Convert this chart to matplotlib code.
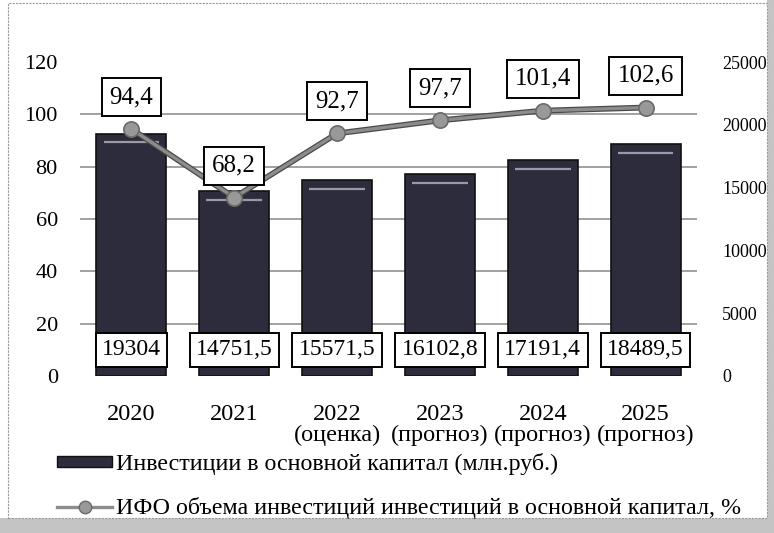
import matplotlib
matplotlib.use("Agg")
import matplotlib.pyplot as plt
from matplotlib.patches import Rectangle, Patch
from matplotlib.lines import Line2D
import matplotlib.transforms as mtransforms

plt.rcParams['font.family'] = ['Liberation Serif', 'DejaVu Serif']

years = ["2020", "2021", "2022\n(оценка)", "2023\n(прогноз)", "2024\n(прогноз)", "2025\n(прогноз)"]
investments = [19304, 14751.5, 15571.5, 16102.8, 17191.4, 18489.5]
ifo = [94.4, 68.2, 92.7, 97.7, 101.4, 102.6]
inv_labels = ["19304", "14751,5", "15571,5", "16102,8", "17191,4", "18489,5"]
ifo_labels = ["94,4", "68,2", "92,7", "97,7", "101,4", "102,6"]
left_ticks = [0, 20, 40, 60, 80, 100, 120]
right_ticks = [0, 5000, 10000, 15000, 20000, 25000]
legend_bar = "Инвестиции в основной капитал (млн.руб.)"
legend_line = "ИФО объема инвестиций инвестиций в основной капитал, %"

W, H = 774, 533
fig = plt.figure(figsize=(W / 100, H / 100), dpi=100)
fig.patch.set_facecolor("white")

# frame / scan border
fig.patches.append(Rectangle((0, 0), 1, 15 / H, transform=fig.transFigure,
                             facecolor="#c4c4c4", edgecolor="none", zorder=-10))
fig.patches.append(Rectangle((767 / W, 0), 7 / W, 1, transform=fig.transFigure,
                             facecolor="#c4c4c4", edgecolor="none", zorder=-10))
fig.patches.append(Rectangle((8 / W, 15 / H), (767 - 8) / W, (H - 15 - 3) / H,
                             transform=fig.transFigure, facecolor="white",
                             edgecolor="#9a9a9a", linewidth=0.8, linestyle=(0, (2, 1)), zorder=-9))

ax = fig.add_axes([80 / W, 1 - 376 / H, (697 - 80) / W, (376 - 62) / H])
ax.patch.set_visible(False)
ax2 = ax.twinx()
x = list(range(len(years)))

# host axes: bars on right scale
ax.set_ylim(0, 25000)
ax.set_xlim(-0.5, len(years) - 0.5)
ax.bar(x, investments, width=0.68, color="#2c2c3c", edgecolor="#111111", linewidth=1.2, zorder=2)
ax.hlines([v - 700 for v in investments], [i - 0.27 for i in x], [i + 0.27 for i in x],
          colors="#9a9aa6", linewidth=1.6, zorder=3)
ax.yaxis.tick_right()
ax.set_yticks(right_ticks)
ax.set_yticklabels([str(t) for t in right_ticks], fontsize=13)
ax.set_yticks([t / 120 * 25000 for t in left_ticks], minor=True)
ax.tick_params(axis="y", which="both", length=0, pad=18, left=False, labelleft=False,
               right=True, labelright=True)
ax.yaxis.grid(True, which="minor", color="#9a9a9a", linewidth=1.3)
ax.set_axisbelow(True)
ax.set_xticks(x)
ax.set_xticklabels(years, fontsize=17.5, linespacing=1.0)
ax.tick_params(axis="x", length=0, pad=20)
for s in ax.spines.values():
    s.set_visible(False)

trans = mtransforms.blended_transform_factory(ax.transData, ax.transAxes)
for i, lab in enumerate(inv_labels):
    ax.text(i, 0.083, lab, transform=trans, ha="center", va="center", fontsize=17,
            bbox=dict(boxstyle="square,pad=0.27", facecolor="white", edgecolor="black",
                      linewidth=1.4), zorder=6)

# twin axes: line on left scale
ax2.set_ylim(0, 120)
ax2.yaxis.tick_left()
ax2.set_yticks(left_ticks)
ax2.set_yticklabels([str(t) for t in left_ticks], fontsize=16)
ax2.tick_params(axis="y", length=0, pad=16, right=False, labelright=False,
                left=True, labelleft=True)
for s in ax2.spines.values():
    s.set_visible(False)
ax2.plot(x, ifo, color="#4a4a4a", linewidth=4.2, zorder=3, solid_capstyle="round")
ax2.plot(x, ifo, color="#8c8c8c", linewidth=2.4, marker="o", markersize=11,
         markerfacecolor="#999999", markeredgecolor="#6a6a6a", markeredgewidth=1.2, zorder=4)
for i, (v, lab) in enumerate(zip(ifo, ifo_labels)):
    ax2.annotate(lab, (i, v), xytext=(0, 23), textcoords="offset points",
                 ha="center", va="center", fontsize=18,
                 bbox=dict(boxstyle="square,pad=0.32", facecolor="white", edgecolor="black",
                           linewidth=1.4), zorder=6)

handles = [Patch(facecolor="#2c2c3c", edgecolor="#111111"),
           Line2D([0], [0], color="#8c8c8c", linewidth=2.4, marker="o", markersize=9,
                  markerfacecolor="#999999", markeredgecolor="#6a6a6a")]
fig.legend(handles, [legend_bar, legend_line], loc="upper left",
           bbox_to_anchor=(57 / W, 1 - 453 / H), frameon=False, fontsize=17.3,
           handlelength=2.3, handleheight=0.3, handletextpad=0.15, labelspacing=0.9,
           borderaxespad=0, borderpad=0)

fig.savefig("out.png", dpi=100)
